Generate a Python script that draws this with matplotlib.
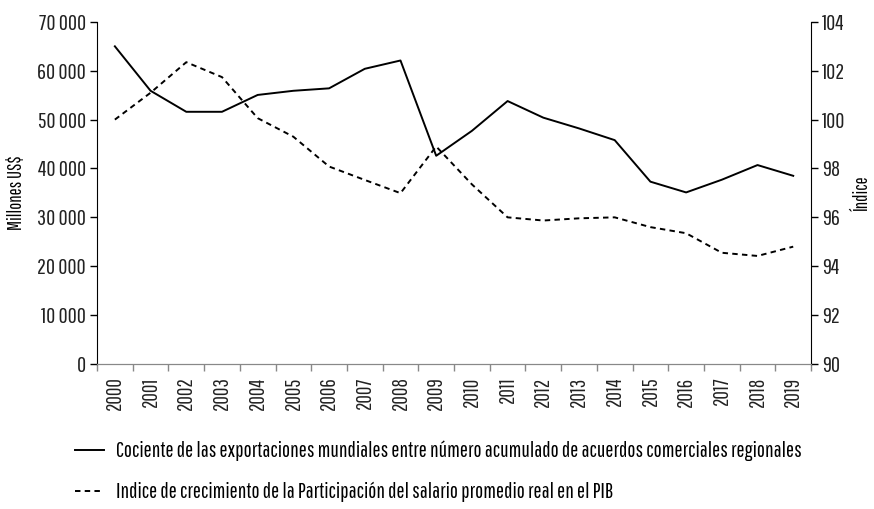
import numpy as np
import matplotlib
matplotlib.use('Agg')
import matplotlib.pyplot as plt
from matplotlib.ticker import FuncFormatter, FixedLocator

plt.rcParams['font.family'] = ['Pathway Gothic One', 'DejaVu Sans']

years = [str(y) for y in range(2000, 2020)]
exports_ratio = [65000, 55900, 51600, 51600, 55050, 55900, 56400, 60400, 62100, 42600,
                 47700, 53800, 50400, 48200, 45800, 37300, 35100, 37700, 40700, 38500]
wage_index = [100.0, 101.1, 102.35, 101.74, 100.06, 99.3, 98.08, 97.53, 96.99, 98.9,
              97.35, 96.0, 95.87, 95.96, 96.0, 95.6, 95.35, 94.55, 94.42, 94.8]

label_solid = 'Cociente de las exportaciones mundiales entre número acumulado de acuerdos comerciales regionales'
label_dash = 'Indice de crecimiento de la Participación del salario promedio real en el PIB'

fig = plt.figure(figsize=(8.74, 5.09), dpi=100)
ax = fig.add_axes([0.111, 0.285, 0.817, 0.672])
ax2 = ax.twinx()

x = np.arange(len(years))
l1, = ax.plot(x, exports_ratio, color='black', lw=1.4)
l2, = ax2.plot(x, wage_index, color='black', lw=1.4, linestyle=(0, (2.8, 2.2)))

ax.set_xlim(-0.5, len(years) - 0.5)
ax.set_ylim(0, 70000)
ax2.set_ylim(90, 104)
ax.set_yticks(range(0, 70001, 10000))
ax2.set_yticks(range(90, 105, 2))
ax.yaxis.set_major_formatter(FuncFormatter(lambda v, p: f'{int(v):,}'.replace(',', ' ')))

ax.set_xticks(x)
ax.set_xticklabels(years, rotation=90, fontsize=15)
ax.xaxis.set_minor_locator(FixedLocator(np.arange(-0.5, len(years), 1)))
ax.tick_params(axis='x', which='major', length=0, pad=9)
ax.tick_params(axis='x', which='minor', length=5, color='#888888', width=1)
ax.tick_params(axis='y', length=5, width=1, labelsize=16, pad=3, labelcolor='#222222')
ax2.tick_params(axis='y', length=5, width=1, labelsize=16, pad=3, labelcolor='#222222')
ax.tick_params(axis='x', labelcolor='#222222')

for a in (ax, ax2):
    a.spines['top'].set_visible(False)
    a.spines['bottom'].set_color('#888888')
ax.spines['right'].set_visible(False)
ax2.spines['left'].set_visible(False)

ax.set_ylabel('Millones US$', fontsize=13.5)
ax2.set_ylabel('Índice', fontsize=13.5)
ax.yaxis.set_label_coords(-0.1, 0.5)
ax2.yaxis.set_label_coords(1.058, 0.5)

fig.legend([l1, l2], [label_solid, label_dash], loc='upper left',
           bbox_to_anchor=(0.086, 0.134), frameon=False, fontsize=15.5,
           handlelength=1.35, handletextpad=0.55, labelspacing=0.95,
           borderaxespad=0, borderpad=0)

fig.savefig('out.png', dpi=100)
